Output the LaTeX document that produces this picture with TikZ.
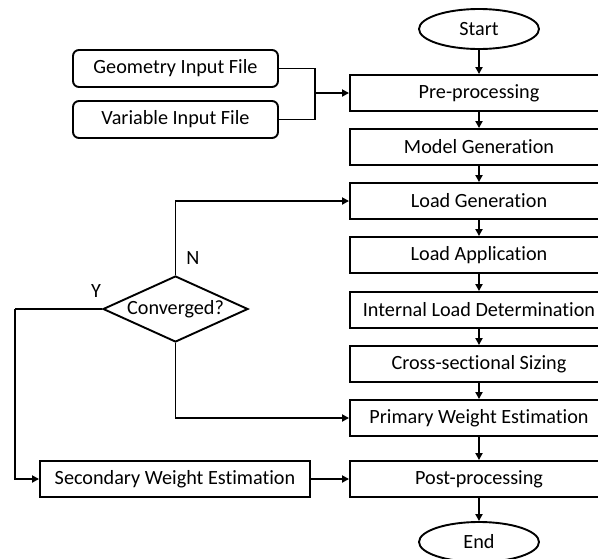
\documentclass[tikz,border=0pt]{standalone}
\usepackage{fontspec}
\setmainfont{Carlito}[Ligatures=NoCommon]
\usetikzlibrary{shapes.geometric,arrows.meta}
\begin{document}
\begin{tikzpicture}[x=1pt,y=-1pt,
  every node/.style={font=\fontsize{20.2}{24}\selectfont, inner sep=0pt},
  stage/.style={draw, line width=1.9pt, rectangle, minimum width=258pt, minimum height=36pt},
  infile/.style={draw, line width=1.9pt, rectangle, rounded corners=6pt, minimum width=205pt, minimum height=37pt},
  sidebox/.style={draw, line width=1.9pt, rectangle, minimum width=270pt, minimum height=36pt},
  terminal/.style={draw, line width=1.9pt, ellipse, minimum width=120pt, minimum height=40pt},
  decision/.style={draw, line width=1.9pt, diamond, aspect=2.2, minimum width=145pt, minimum height=66pt},
  flow/.style={line width=1.9pt, -{Triangle[length=7pt,width=7pt]}},
  link/.style={line width=1.9pt}]
\useasboundingbox (0,0) rectangle (598,558);
\clip (0,0) rectangle (598,558);

% main column
\node[terminal] (start) at (479,29) {Start};
\node[stage] (pre)  at (479,93)  {Pre-processing};
\node[stage] (mg)   at (479,147) {Model Generation};
\node[stage] (lg)   at (479,201) {Load Generation};
\node[stage] (la)   at (479,255) {Load Application};
\node[stage] (ild)  at (479,310) {Internal Load Determination};
\node[stage] (css)  at (479,364) {Cross-sectional Sizing};
\node[stage] (pw)   at (479,418) {Primary Weight Estimation};
\node[stage] (post) at (479,479) {Post-processing};
\node[terminal] (stop) at (479,542) {End};

% input files
\node[infile] (geo) at (175.5,68.5)  {Geometry Input File};
\node[infile] (var) at (175.5,119.5) {Variable Input File};
\coordinate (join) at (315,93);

% convergence check and secondary estimate
\node[decision] (conv) at (175.5,309) {Converged?};
\node[sidebox] (sw) at (175,479) {Secondary Weight Estimation};
\coordinate (ybend) at (15,309);

% vertical flow
\draw[flow] (start) -- (pre);
\draw[flow] (pre) -- (mg);
\draw[flow] (mg) -- (lg);
\draw[flow] (lg) -- (la);
\draw[flow] (la) -- (ild);
\draw[flow] (ild) -- (css);
\draw[flow] (css) -- (pw);
\draw[flow] (pw) -- (post);
\draw[flow] (post) -- (stop);

% inputs into pre-processing
\draw[link] (geo.east) -| (join);
\draw[link] (var.east) -| (join);
\draw[flow] (join) -- (pre.west);

% loop branches
\draw[flow] (conv.north) |- (lg.west);
\draw[flow] (conv.south) |- (pw.west);
\draw[link] (conv.west) -- (ybend);
\draw[flow] (ybend) |- (sw.west);
\draw[flow] (sw) -- (post);

\node at (193,258) {N};
\node at (96,291) {Y};
\end{tikzpicture}
\end{document}
